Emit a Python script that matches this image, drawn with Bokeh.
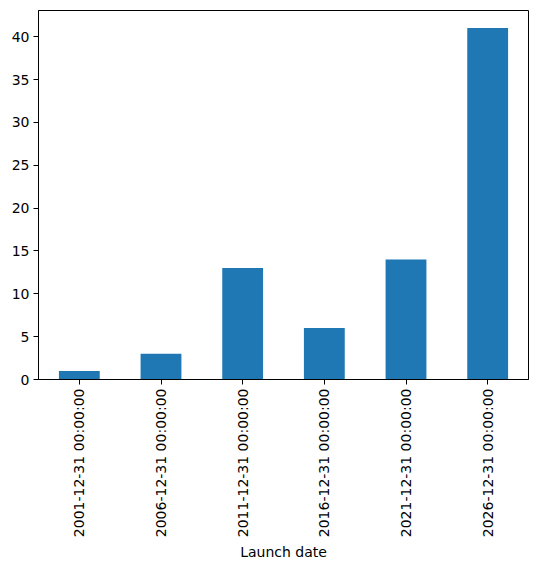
import math
from bokeh.plotting import figure
from bokeh.models import FixedTicker, Range1d
from bokeh.embed import file_html
from bokeh.resources import INLINE

labels = ["2001-12-31 00:00:00", "2006-12-31 00:00:00", "2011-12-31 00:00:00",
          "2016-12-31 00:00:00", "2021-12-31 00:00:00", "2026-12-31 00:00:00"]
counts = [1, 3, 13, 6, 14, 41]
xs = list(range(len(labels)))

p = figure(output_backend="svg", toolbar_location=None,
           frame_width=490, frame_height=369,
           x_range=Range1d(-0.5, len(labels) - 0.5),
           y_range=Range1d(0, max(counts) * 1.05))
p.min_border_left = 38
p.min_border_top = 10
p.min_border_right = 7
p.min_border_bottom = 10

p.vbar(x=xs, top=counts, width=0.5, bottom=0, fill_color="#1f77b4", line_color=None)

p.xgrid.visible = False
p.ygrid.visible = False
p.outline_line_color = "black"
p.outline_line_width = 1

p.xaxis.ticker = FixedTicker(ticks=xs)
p.xaxis.major_label_overrides = {i: l for i, l in enumerate(labels)}
p.xaxis.major_label_orientation = math.pi / 2
p.xaxis.axis_label = "Launch date"
p.yaxis.ticker = FixedTicker(ticks=[0, 5, 10, 15, 20, 25, 30, 35, 40])

for ax in (p.xaxis[0], p.yaxis[0]):
    ax.axis_line_color = "black"
    ax.major_tick_line_color = "black"
    ax.major_tick_out = 5
    ax.major_tick_in = 0
    ax.minor_tick_line_color = None
    ax.major_label_text_font = "DejaVu Sans"
    ax.major_label_text_font_size = "14px"
    ax.major_label_text_color = "black"
    ax.axis_label_text_font = "DejaVu Sans"
    ax.axis_label_text_font_size = "14px"
    ax.axis_label_text_font_style = "normal"
    ax.axis_label_text_color = "black"
    ax.major_label_standoff = 4
    ax.axis_label_standoff = 4

open("out.html", "w").write(file_html(p, INLINE))
